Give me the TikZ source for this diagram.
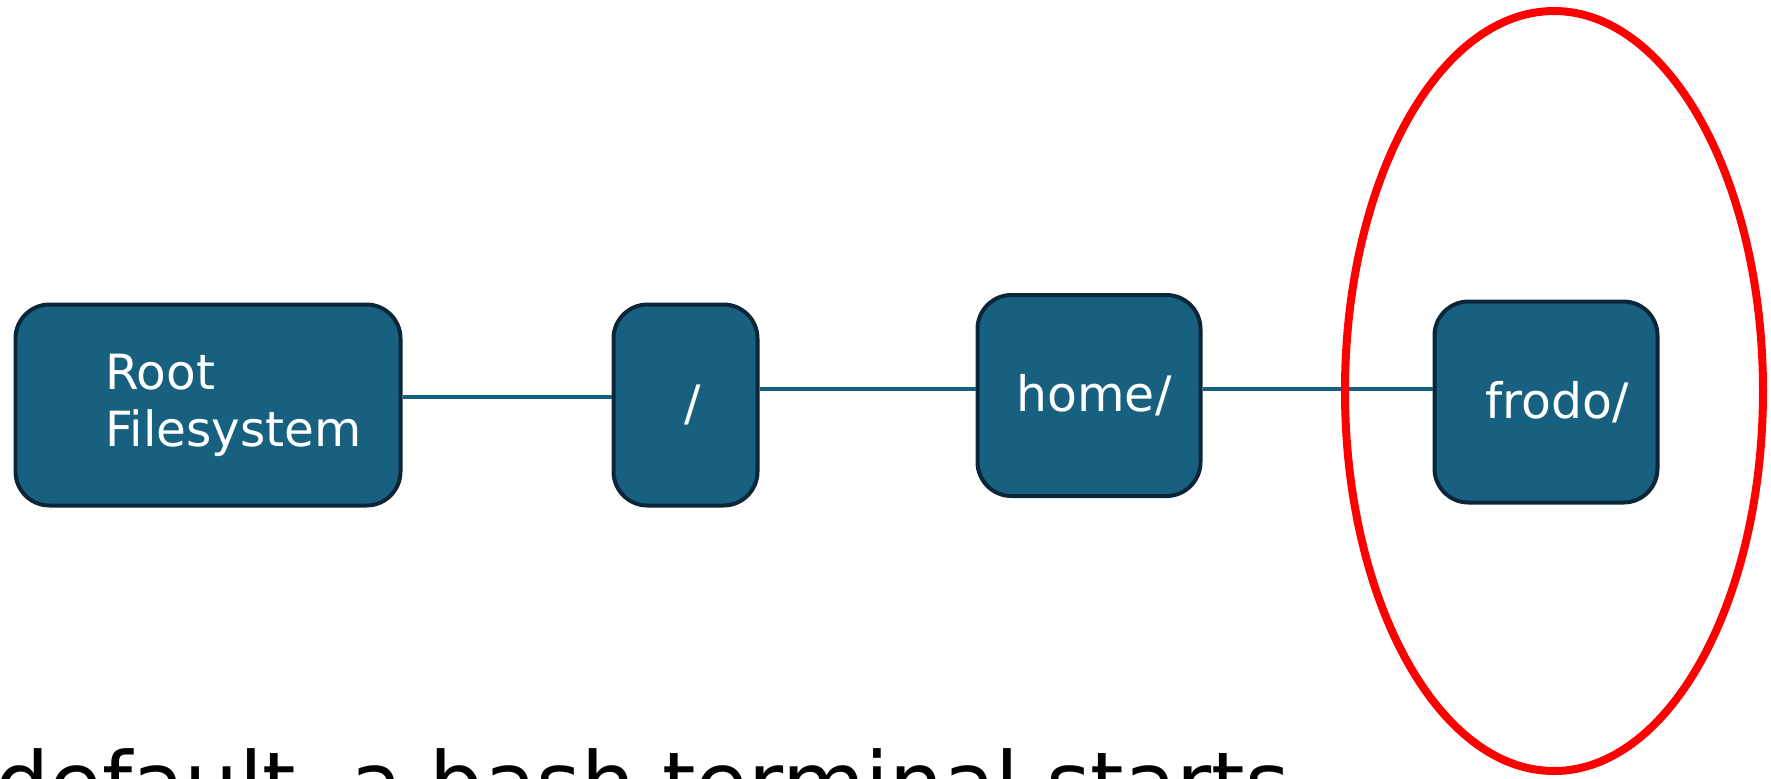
\documentclass[tikz,border=0pt]{standalone}
\usepackage{fontspec}
\setmainfont{DejaVu Sans}
\usepackage{tikz}
\usetikzlibrary{positioning}

\definecolor{dirblue}{HTML}{18607F}
\definecolor{dirrim}{HTML}{0B2638}

\begin{document}
\begin{tikzpicture}[
auto,
dirbox/.style={rectangle, rounded corners=0.34cm, draw=dirrim, fill=dirblue,
  line width=0.04cm, text=white, minimum height=2.01cm,
  font=\fontsize{13.9pt}{16.4pt}\selectfont},
dirtext/.style={text=white, inner sep=0pt, align=left,
  font=\fontsize{13.8pt}{16.2pt}\selectfont},
link/.style={draw=dirblue, line width=0.035cm},
hilite/.style={draw=red, line width=0.08cm}]
\useasboundingbox (0,0) rectangle (17.71,-7.78);
\clip (0,0) rectangle (17.71,-7.78);

\node [dirbox, minimum width=3.85cm] (root) at (2.08,-4.05) {};
\node [dirtext, anchor=west] (rootlbl) at ([xshift=0.91cm]root.west) {Root\\Filesystem};
\node [dirbox, minimum width=1.44cm, right=2.09cm of root] (slash) {\hspace*{0.14cm}/};
\node [dirbox, minimum width=2.23cm, right=2.16cm of slash, yshift=0.095cm] (home) {\hspace*{0.1cm}home/};
\node [dirbox, minimum width=2.23cm, right=2.30cm of home, yshift=-0.065cm] (frodo) {\hspace*{0.22cm}frodo/};

\draw [link] ([yshift=0.08cm]root.east) -- ([yshift=0.08cm]root.east -| slash.west);
\draw [link] ([yshift=0.16cm]slash.east) -- ([yshift=0.16cm]slash.east -| home.west);
\draw [link] ([yshift=0.065cm]home.east) -- ([yshift=0.065cm]home.east -| frodo.west);

% the directory we end up in
\draw [hilite] (15.54,-3.91) ellipse [x radius=2.09, y radius=3.80];

\node [anchor=base west, inner sep=0pt, font=\fontsize{24.3pt}{29pt}\selectfont]
  (caption) at (-0.05,-8.13) {default, a bash terminal starts};
\end{tikzpicture}
\end{document}
